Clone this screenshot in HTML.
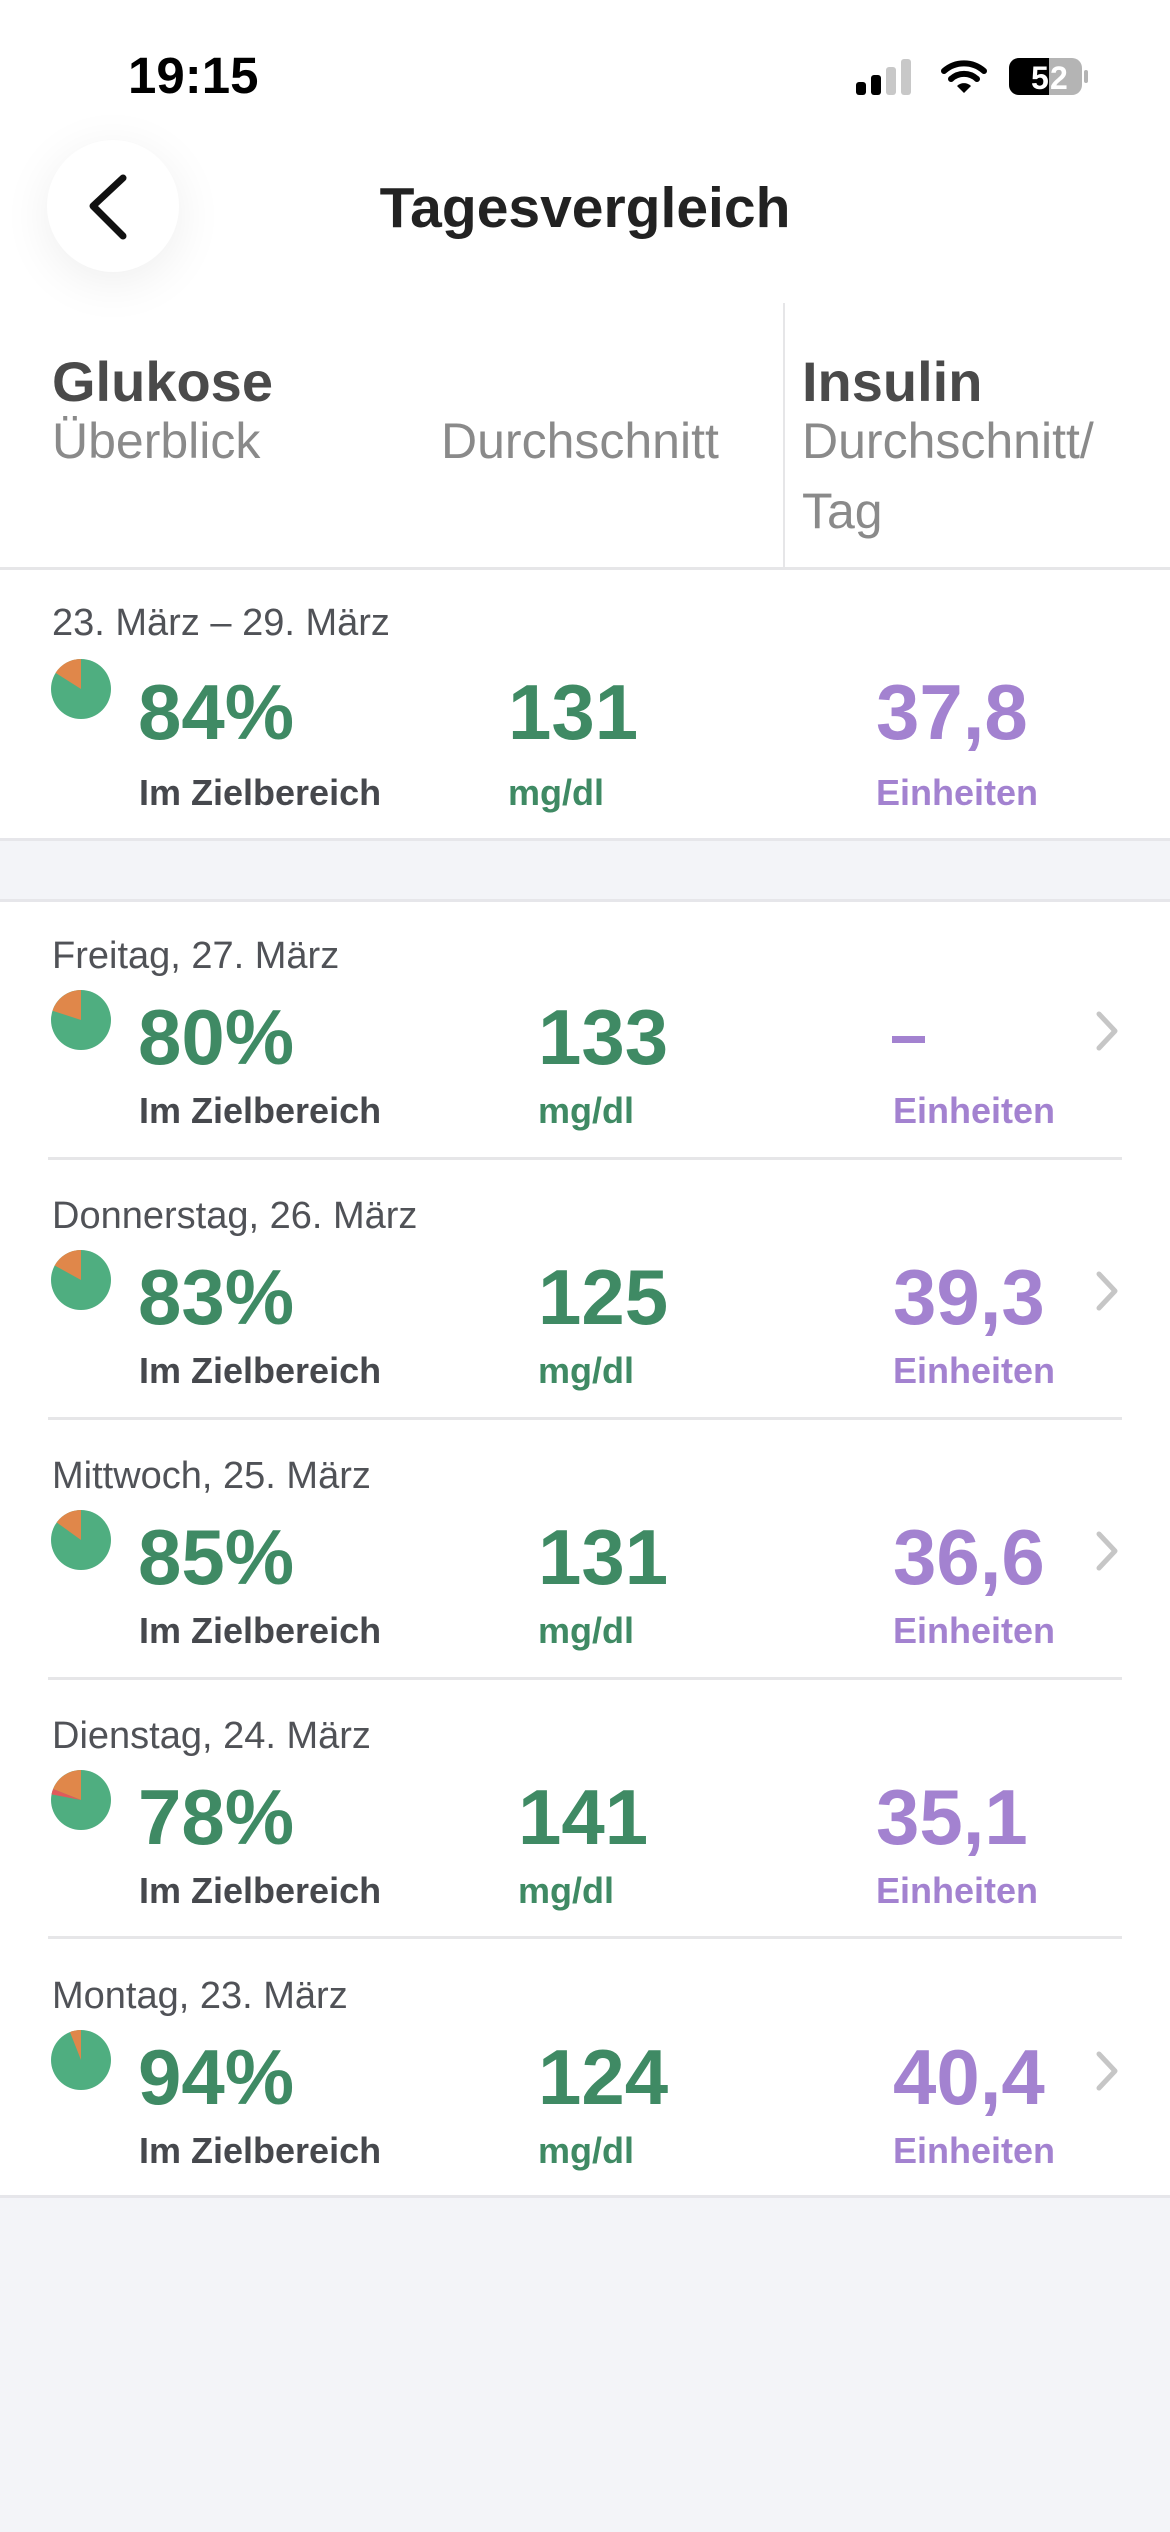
<!DOCTYPE html>
<html><head><meta charset="utf-8"><style>
*{margin:0;padding:0;box-sizing:border-box}
body{width:1170px;height:2532px;background:#f3f4f8;position:relative;overflow:hidden;font-family:"Liberation Sans",sans-serif}
.a{position:absolute;white-space:nowrap}
.w{position:absolute;left:0;width:1170px;background:#fff}
.date{font-size:38px;color:#505257;line-height:38px}
.big{font-size:78px;font-weight:bold;line-height:78px;color:#3f8a64}
.unit{font-size:36px;font-weight:bold;line-height:36px;color:#46484d}
.big.pu,.unit.pu{color:#a382d0}
.unit.gu{color:#3f8a64}
.sep{position:absolute;left:48px;width:1074px;height:3px;background:#e6e6e8}
</style></head><body>
<div class="w" style="top:0;height:841px"></div>
<div class="w" style="top:901px;height:1296px"></div>
<div class="a" style="left:0;top:838px;width:1170px;height:3px;background:#e6e6ea"></div>
<div class="a" style="left:0;top:899px;width:1170px;height:3px;background:#e6e6ea"></div>
<div class="a" style="left:0;top:2195px;width:1170px;height:3px;background:#e6e6ea"></div>

<div class="a" style="left:128px;top:50px;font-size:51px;font-weight:bold;line-height:51px;color:#000">19:15</div>
<svg class="a" style="left:850px;top:55px" width="240" height="45">
<rect x="6" y="27" width="10" height="13" rx="3" fill="#000"/>
<rect x="21" y="20" width="10" height="20" rx="3" fill="#000"/>
<rect x="36" y="12" width="10" height="28" rx="3" fill="#c8c8c8"/>
<rect x="51" y="4" width="10" height="36" rx="3" fill="#c8c8c8"/>
<path d="M94 16 a30 30 0 0 1 40 0" stroke="#000" stroke-width="6" fill="none" stroke-linecap="round"/>
<path d="M101 24 a19 19 0 0 1 26 0" stroke="#000" stroke-width="6" fill="none" stroke-linecap="round"/>
<path d="M107 31 L114 38 L121 31 a10 10 0 0 0 -14 0z" fill="#000"/>
<rect x="159" y="3" width="73" height="37" rx="10" fill="#b4b4b4"/>
<path d="M169 3 H199 V40 H169 a10 10 0 0 1 -10 -10 V13 a10 10 0 0 1 10 -10z" fill="#000"/>
<rect x="234" y="15" width="4" height="13" rx="2" fill="#b4b4b4"/>
<text x="181" y="34" font-size="32" font-weight="bold" fill="#fff" font-family="Liberation Sans">5</text>
<text x="200" y="34" font-size="32" font-weight="bold" fill="#fff" font-family="Liberation Sans">2</text>
</svg>

<div class="a" style="left:47px;top:140px;width:132px;height:132px;border-radius:50%;background:#fff;box-shadow:0 10px 50px rgba(0,0,0,0.07)"></div>
<svg class="a" style="left:80px;top:170px" width="60" height="75"><path d="M43 8 L13 36 L43 66" stroke="#111" stroke-width="7" fill="none" stroke-linecap="round" stroke-linejoin="round"/></svg>
<div class="a" style="left:0;width:1170px;text-align:center;top:180px;font-size:57px;font-weight:bold;line-height:57px;color:#222">Tagesvergleich</div>

<div class="a" style="left:783px;top:303px;width:2px;height:265px;background:#e6e6e8"></div>
<div class="a" style="left:52px;top:354px;font-size:56px;font-weight:bold;line-height:56px;color:#4a4a4a">Glukose</div>
<div class="a" style="left:802px;top:354px;font-size:56px;font-weight:bold;line-height:56px;color:#4a4a4a">Insulin</div>
<div class="a" style="left:52px;top:416px;font-size:50px;line-height:50px;color:#8a8a8a">Überblick</div>
<div class="a" style="left:441px;top:416px;font-size:50px;line-height:50px;color:#8a8a8a">Durchschnitt</div>
<div class="a" style="left:802px;top:416px;font-size:50px;line-height:50px;color:#8a8a8a">Durchschnitt/</div>
<div class="a" style="left:802px;top:486px;font-size:50px;line-height:50px;color:#8a8a8a">Tag</div>
<div class="a" style="left:0;top:567px;width:1170px;height:3px;background:#e6e6e8"></div>

<div class="a date" style="left:52px;top:604px">23. März – 29. März</div>
<svg class="a" style="left:51px;top:659px" width="60" height="60"><g transform="translate(30,30)"><circle r="30" fill="#4fae80"/><path d="M0 0 L0 -30 A30 30 0 0 0 -25.4 -16.1Z" fill="#e0874a"/></g></svg>
<div class="a big" style="left:138px;top:673px">84%</div>
<div class="a unit" style="left:139px;top:775px">Im Zielbereich</div>
<div class="a big" style="left:508px;top:673px">131</div>
<div class="a unit gu" style="left:508px;top:775px">mg/dl</div>
<div class="a big pu" style="left:876px;top:673px">37,8</div>
<div class="a unit pu" style="left:876px;top:775px">Einheiten</div>

<!-- row 1 -->
<div class="a date" style="left:52px;top:937px">Freitag, 27. März</div>
<svg class="a" style="left:51px;top:990px" width="60" height="60"><g transform="translate(30,30)"><circle r="30" fill="#4fae80"/><path d="M0 0 L0 -30 A30 30 0 0 0 -28.5 -9.3Z" fill="#e0874a"/></g></svg>
<div class="a big" style="left:138px;top:998px">80%</div>
<div class="a unit" style="left:139px;top:1093px">Im Zielbereich</div>
<div class="a big" style="left:538px;top:998px">133</div>
<div class="a unit gu" style="left:538px;top:1093px">mg/dl</div>
<div class="a" style="left:892px;top:1036px;width:33px;height:7px;background:#a382d0"></div>
<div class="a unit pu" style="left:893px;top:1093px">Einheiten</div>
<svg class="a" style="left:1090px;top:1008px" width="34" height="46"><path d="M9 6 L25 23 L9 40" stroke="#c6c6c6" stroke-width="5" fill="none" stroke-linecap="round" stroke-linejoin="round"/></svg>
<div class="sep" style="top:1157px"></div>

<!-- row 2 -->
<div class="a date" style="left:52px;top:1197px">Donnerstag, 26. März</div>
<svg class="a" style="left:51px;top:1250px" width="60" height="60"><g transform="translate(30,30)"><circle r="30" fill="#4fae80"/><path d="M0 0 L0 -30 A30 30 0 0 0 -26.3 -14.5Z" fill="#e0874a"/></g></svg>
<div class="a big" style="left:138px;top:1258px">83%</div>
<div class="a unit" style="left:139px;top:1353px">Im Zielbereich</div>
<div class="a big" style="left:538px;top:1258px">125</div>
<div class="a unit gu" style="left:538px;top:1353px">mg/dl</div>
<div class="a big pu" style="left:893px;top:1258px">39,3</div>
<div class="a unit pu" style="left:893px;top:1353px">Einheiten</div>
<svg class="a" style="left:1090px;top:1268px" width="34" height="46"><path d="M9 6 L25 23 L9 40" stroke="#c6c6c6" stroke-width="5" fill="none" stroke-linecap="round" stroke-linejoin="round"/></svg>
<div class="sep" style="top:1417px"></div>

<!-- row 3 -->
<div class="a date" style="left:52px;top:1457px">Mittwoch, 25. März</div>
<svg class="a" style="left:51px;top:1510px" width="60" height="60"><g transform="translate(30,30)"><circle r="30" fill="#4fae80"/><path d="M0 0 L0 -30 A30 30 0 0 0 -24.3 -17.6Z" fill="#e0874a"/></g></svg>
<div class="a big" style="left:138px;top:1518px">85%</div>
<div class="a unit" style="left:139px;top:1613px">Im Zielbereich</div>
<div class="a big" style="left:538px;top:1518px">131</div>
<div class="a unit gu" style="left:538px;top:1613px">mg/dl</div>
<div class="a big pu" style="left:893px;top:1518px">36,6</div>
<div class="a unit pu" style="left:893px;top:1613px">Einheiten</div>
<svg class="a" style="left:1090px;top:1528px" width="34" height="46"><path d="M9 6 L25 23 L9 40" stroke="#c6c6c6" stroke-width="5" fill="none" stroke-linecap="round" stroke-linejoin="round"/></svg>
<div class="sep" style="top:1677px"></div>

<!-- row 4 -->
<div class="a date" style="left:52px;top:1717px">Dienstag, 24. März</div>
<svg class="a" style="left:51px;top:1770px" width="60" height="60"><g transform="translate(30,30)"><circle r="30" fill="#4fae80"/><path d="M0 0 L0 -30 A30 30 0 0 0 -27.9 -11Z" fill="#e0874a"/><path d="M0 0 L-27.9 -11 A30 30 0 0 0 -29.5 -5.6Z" fill="#e05a5a"/></g></svg>
<div class="a big" style="left:138px;top:1778px">78%</div>
<div class="a unit" style="left:139px;top:1873px">Im Zielbereich</div>
<div class="a big" style="left:518px;top:1778px">141</div>
<div class="a unit gu" style="left:518px;top:1873px">mg/dl</div>
<div class="a big pu" style="left:876px;top:1778px">35,1</div>
<div class="a unit pu" style="left:876px;top:1873px">Einheiten</div>
<div class="sep" style="top:1936px"></div>

<!-- row 5 -->
<div class="a date" style="left:52px;top:1977px">Montag, 23. März</div>
<svg class="a" style="left:51px;top:2030px" width="60" height="60"><g transform="translate(30,30)"><circle r="30" fill="#4fae80"/><path d="M0 0 L0 -30 A30 30 0 0 0 -11 -27.9Z" fill="#e0874a"/></g></svg>
<div class="a big" style="left:138px;top:2038px">94%</div>
<div class="a unit" style="left:139px;top:2133px">Im Zielbereich</div>
<div class="a big" style="left:538px;top:2038px">124</div>
<div class="a unit gu" style="left:538px;top:2133px">mg/dl</div>
<div class="a big pu" style="left:893px;top:2038px">40,4</div>
<div class="a unit pu" style="left:893px;top:2133px">Einheiten</div>
<svg class="a" style="left:1090px;top:2048px" width="34" height="46"><path d="M9 6 L25 23 L9 40" stroke="#c6c6c6" stroke-width="5" fill="none" stroke-linecap="round" stroke-linejoin="round"/></svg>
</body></html>
